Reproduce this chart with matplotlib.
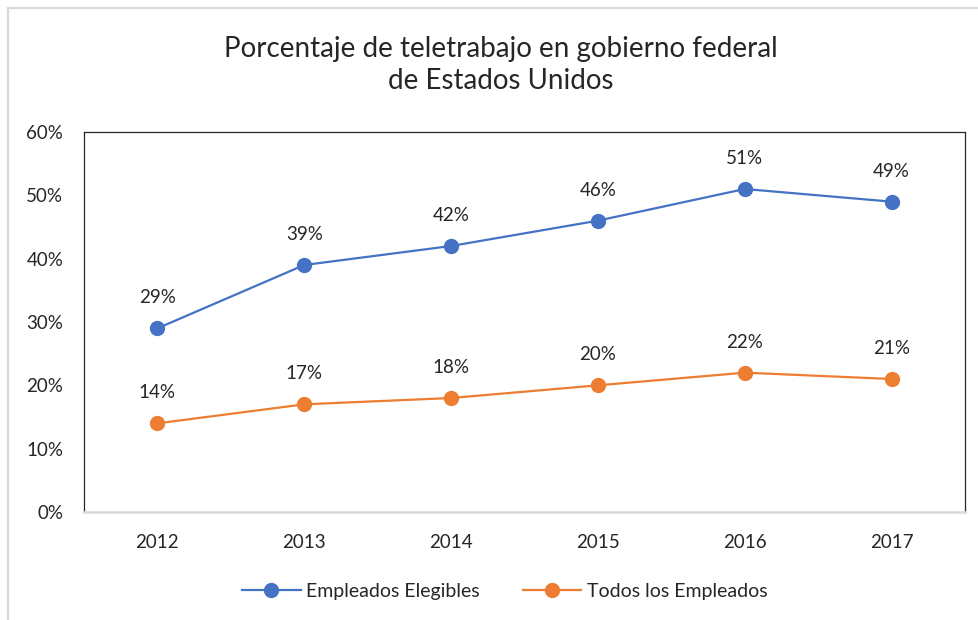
"""Teleworking share in the US federal government, 2012-2017."""

import matplotlib
matplotlib.use("Agg")
import matplotlib.pyplot as plt
from matplotlib.patches import Rectangle
from matplotlib.ticker import FuncFormatter

years = ["2012", "2013", "2014", "2015", "2016", "2017"]
elegibles = [29, 39, 42, 46, 51, 49]
todos = [14, 17, 18, 20, 22, 21]
y_ticks = [0, 10, 20, 30, 40, 50, 60]

BLUE = "#4472C4"
ORANGE = "#ED7D31"
TEXT = "#262626"

plt.rcParams["font.family"] = ["Lato", "DejaVu Sans"]

fig = plt.figure(figsize=(9.79, 6.2), dpi=100)
ax = fig.add_axes([84 / 979, 1 - 512 / 620, 881 / 979, 380 / 620])

x = list(range(len(years)))
ax.plot(x, elegibles, "-o", color=BLUE, lw=1.6, ms=10, label="Empleados Elegibles")
ax.plot(x, todos, "-o", color=ORANGE, lw=1.6, ms=10, label="Todos los Empleados")

for xi, v in zip(x, elegibles):
    ax.annotate(f"{v}%", (xi, v), xytext=(0, 22), textcoords="offset points",
                ha="center", va="center", fontsize=13.5, color=TEXT)
for xi, v in zip(x, todos):
    ax.annotate(f"{v}%", (xi, v), xytext=(0, 22), textcoords="offset points",
                ha="center", va="center", fontsize=13.5, color=TEXT)

ax.set_xlim(-0.5, len(years) - 0.5)
ax.set_ylim(0, 60)
ax.set_xticks(x)
ax.set_xticklabels(years)
ax.set_yticks(y_ticks)
ax.yaxis.set_major_formatter(FuncFormatter(lambda v, _: f"{v:.0f}%"))
ax.tick_params(axis="both", length=0, labelsize=13.5, colors=TEXT)
ax.tick_params(axis="x", pad=16)
ax.tick_params(axis="y", pad=15)

for side in ("left", "top", "right"):
    ax.spines[side].set_color("#262626")
    ax.spines[side].set_linewidth(0.9)
ax.spines["bottom"].set_color("#d9d9d9")
ax.spines["bottom"].set_linewidth(1.8)

fig.text(501 / 979, 1 - 65 / 620,
         "Porcentaje de teletrabajo en gobierno federal\nde Estados Unidos",
         ha="center", va="center", fontsize=20, color=TEXT, linespacing=1.3)

fig.legend(loc="center", bbox_to_anchor=(505 / 979, 1 - 591 / 620), ncol=2,
           frameon=False, fontsize=14, handlelength=3.0, columnspacing=2.2,
           handletextpad=0.3, labelcolor=TEXT)

fig.patches.append(Rectangle((8 / 979, -0.1), 1.2, 1 - 8 / 620 + 0.1,
                             transform=fig.transFigure, fill=False,
                             edgecolor="#d9d9d9", lw=1.6))

fig.savefig("out.png", dpi=100)
